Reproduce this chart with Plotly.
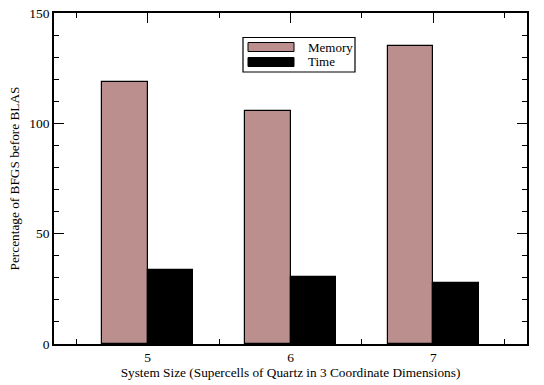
import plotly.graph_objects as go

sizes = [5, 6, 7]
memory = [118.6, 105.4, 135.0]
time_vals = [33.5, 30.2, 27.5]
series_names = ["Memory", "Time"]
colors = ["#BC8F8F", "#000000"]

FONT = "Liberation Serif, Times New Roman, serif"

fig = go.Figure()
fig.add_trace(go.Bar(x=sizes, y=memory, name=series_names[0], width=0.32, offset=-0.32,
                     marker=dict(color=colors[0], line=dict(color="black", width=1.2)),
                     showlegend=False))
fig.add_trace(go.Bar(x=sizes, y=time_vals, name=series_names[1], width=0.32, offset=0,
                     marker=dict(color=colors[1], line=dict(color="black", width=1.2)),
                     showlegend=False))

# custom legend (box with wide swatches)
fig.add_shape(type="rect", xref="paper", yref="paper",
              x0=(243-54)/473, x1=(355-54)/473, y0=(344-72)/331, y1=(344-37.5)/331,
              line=dict(color="black", width=1.2), fillcolor="white")
for i, (nm, c) in enumerate(zip(series_names, colors)):
    yc = 344 - (47 + 15 * i)
    fig.add_shape(type="rect", xref="paper", yref="paper",
                  x0=(248-54)/473, x1=(294-54)/473,
                  y0=(yc-4.5)/331, y1=(yc+4.5)/331,
                  line=dict(color="black", width=1), fillcolor=c)
    fig.add_annotation(text=nm, xref="paper", yref="paper", x=(306-54)/473, y=yc/331,
                       xanchor="left", yanchor="middle", showarrow=False,
                       font=dict(family=FONT, size=13, color="black"))

fig.update_layout(
    width=544, height=385,
    margin=dict(l=54, r=17, t=13, b=41, autoexpand=False),
    paper_bgcolor="white", plot_bgcolor="white",
    font=dict(family=FONT, size=13.5, color="black"),
    bargap=0,
)
fig.update_xaxes(range=[4.346, 7.654], tickvals=sizes, ticktext=[str(s) for s in sizes],
                 automargin=False, tickfont=dict(color="black", size=13.5),
                 ticks="inside", ticklen=10, tickwidth=1.2, tickcolor="black",
                 minor=dict(tickvals=[4.5, 5.5, 6.5, 7.5], ticks="inside", ticklen=5,
                            tickwidth=1.2, tickcolor="black"),
                 showline=True, linecolor="black", linewidth=1.5, mirror="ticks",
                 showgrid=False, zeroline=False,
                 title=dict(text="System Size (Supercells of Quartz in 3 Coordinate Dimensions)",
                            standoff=1, font=dict(size=13.3)))
fig.update_yaxes(range=[0, 150], tickvals=[0, 50, 100, 150],
                 automargin=False, tickfont=dict(color="black", size=13.5),
                 ticks="inside", ticklen=10, tickwidth=1.2, tickcolor="black",
                 minor=dict(dtick=10, ticks="inside", ticklen=5, tickwidth=1.2, tickcolor="black"),
                 showline=True, linecolor="black", linewidth=1.5, mirror="ticks",
                 showgrid=False, zeroline=False,
                 title=dict(text="Percentage of BFGS before BLAS", standoff=7, font=dict(size=13.3)))

fig.write_html("out.html", config={"displayModeBar": False},
               post_script="document.body.style.margin='0';document.body.style.overflow='hidden';")
